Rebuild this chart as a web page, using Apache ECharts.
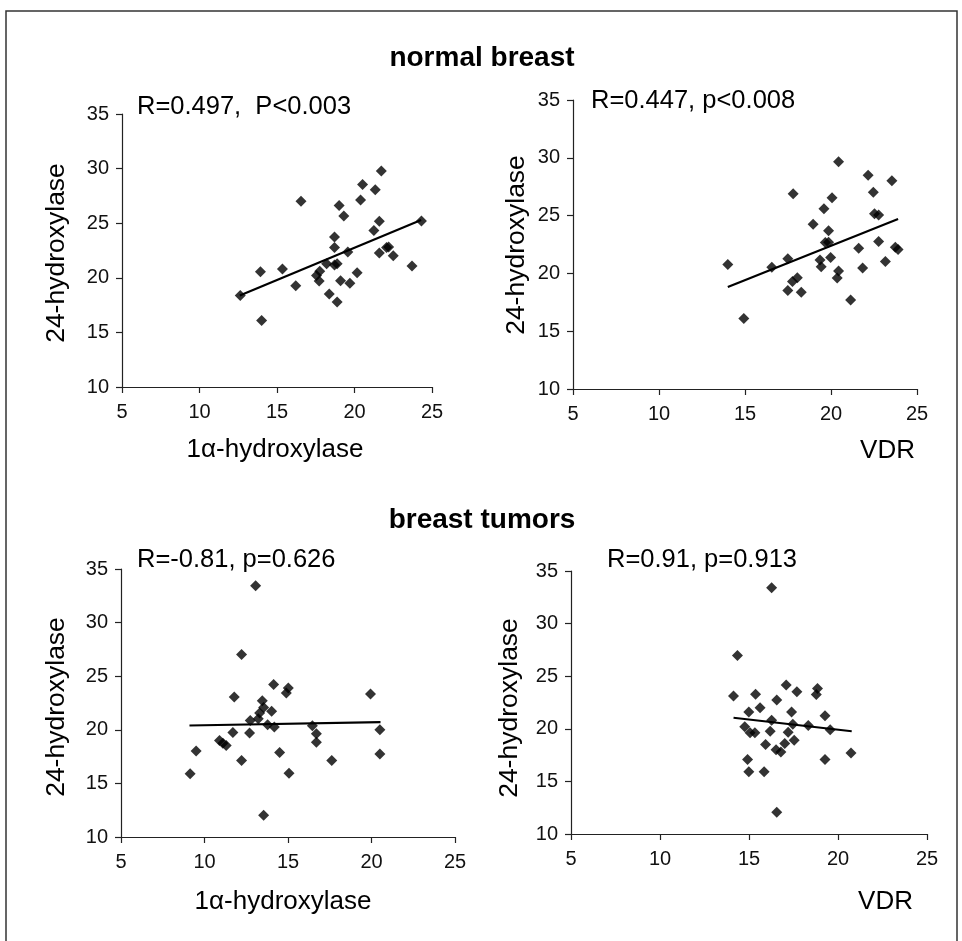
<!DOCTYPE html>
<html>
<head>
<meta charset="utf-8">
<script src="https://cdn.jsdelivr.net/npm/echarts@6/dist/echarts.min.js"></script>
<style>
html,body{margin:0;padding:0;background:#fff;}
#chart{width:962px;height:941px;}
</style>
</head>
<body>
<div id="chart"></div>
<script>
// ---- data ----
const sectionTitles = ['normal breast', 'breast tumors'];
const annotations = ['R=0.497,  P<0.003', 'R=0.447, p<0.008', 'R=-0.81, p=0.626', 'R=0.91, p=0.913'];
const xTitles = ['1\u03b1-hydroxylase', 'VDR', '1\u03b1-hydroxylase', 'VDR'];
const yTitle = '24-hydroxylase';

const normal1a = [
  [12.63,18.38],[13.93,20.56],[14.01,16.10],[15.35,20.80],[16.21,19.27],[16.55,27.00],
  [17.55,20.22],[17.76,20.59],[17.72,19.71],[18.20,21.29],[18.37,18.51],[18.71,23.74],
  [18.71,22.78],[18.71,21.17],[18.88,21.29],[18.88,17.78],[19.01,26.63],[19.31,25.66],
  [19.10,19.74],[19.57,22.36],[19.70,19.49],[20.17,20.47],[20.39,27.12],[20.52,28.55],
  [21.25,24.34],[21.34,28.07],[21.60,25.17],[21.60,22.27],[21.73,29.78],[22.07,22.78],
  [22.20,22.82],[22.50,22.02],[23.71,21.08],[24.32,25.20]
];
const normal1aFit = [[12.6,18.38],[24.3,25.3]];

const normalVDR = [
  [14.00,20.78],[14.93,16.09],[16.56,20.54],[17.49,21.27],[17.49,18.51],[17.80,26.90],
  [17.76,19.31],[18.04,19.63],[18.27,18.36],[18.96,24.25],[19.36,21.15],[19.43,20.57],
  [19.59,25.60],[19.67,22.67],[19.86,22.70],[19.86,23.68],[19.98,21.38],[20.06,26.55],
  [20.36,19.60],[20.44,20.20],[20.44,29.66],[21.14,17.70],[21.61,22.18],[21.84,20.46],
  [22.16,28.50],[22.46,27.01],[22.53,25.17],[22.77,25.06],[22.77,22.76],[23.16,21.03],
  [23.54,28.02],[23.74,22.27],[23.90,22.07]
];
const normalVDRFit = [[14.0,18.82],[23.9,24.71]];

const tumor1a = [
  [13.06,33.43],[12.22,27.03],[14.14,24.22],[15.02,23.91],[14.90,23.44],[11.78,23.06],
  [19.94,23.35],[13.46,22.72],[13.54,22.09],[13.30,21.56],[14.02,21.72],[13.22,21.03],
  [12.74,20.87],[13.78,20.47],[14.18,20.25],[16.46,20.38],[16.70,19.63],[16.70,18.85],
  [20.50,20.00],[11.70,19.75],[12.70,19.69],[10.90,19.00],[11.10,18.75],[11.30,18.53],
  [9.50,18.03],[14.50,17.88],[20.50,17.75],[12.22,17.13],[17.62,17.13],[9.14,15.90],
  [15.06,15.94],[13.54,12.03]
];
const tumor1aFit = [[9.1,20.4],[20.54,20.72]];

const tumorVDR = [
  [16.27,33.40],[14.35,26.97],[14.13,23.11],[15.37,23.28],[17.09,24.17],[17.69,23.53],
  [16.56,22.73],[18.85,23.82],[18.78,23.25],[15.62,22.00],[14.99,21.59],[17.39,21.59],
  [19.27,21.24],[16.27,20.82],[17.46,20.44],[18.33,20.32],[19.56,19.90],[14.76,20.19],
  [15.06,19.62],[15.33,19.62],[16.19,19.77],[17.20,19.68],[17.54,18.91],[17.01,18.60],
  [15.93,18.50],[16.52,18.02],[16.79,17.80],[20.73,17.71],[14.92,17.07],[19.27,17.07],
  [14.99,15.92],[15.85,15.92],[16.56,12.07]
];
const tumorVDRFit = [[14.13,21.05],[20.77,19.77]];

const xMin = 5, xMax = 25, xStep = 5;
const yMin = 10, yMax = 35, yStep = 5;

// ---- layout ----
const FONT = "'Liberation Sans', Arial, Helvetica, sans-serif";
const grids = [
  {left:122, top:114, width:310, height:273},
  {left:573, top:100, width:344, height:289},
  {left:121, top:569, width:334, height:268},
  {left:571, top:571, width:356, height:263}
];
const pointSets = [normal1a, normalVDR, tumor1a, tumorVDR];
const fitSets = [normal1aFit, normalVDRFit, tumor1aFit, tumorVDRFit];

const axisCommon = {
  axisLine:{show:true, onZero:false, lineStyle:{color:'#222', width:1.2}},
  axisTick:{show:true, inside:false, length:6, lineStyle:{color:'#222', width:1.2}},
  splitLine:{show:false},
  axisLabel:{color:'#111', fontFamily:FONT, fontSize:20}
};

const xAxes = grids.map((g,i)=>Object.assign({}, JSON.parse(JSON.stringify(axisCommon)), {
  type:'value', gridIndex:i, min:xMin, max:xMax, interval:xStep
}));
xAxes.forEach(a=>{a.axisLabel.margin = 15;});
const yAxes = grids.map((g,i)=>Object.assign({}, JSON.parse(JSON.stringify(axisCommon)), {
  type:'value', gridIndex:i, min:yMin, max:yMax, interval:yStep
}));
yAxes.forEach(a=>{a.axisLabel.margin = 13;});

const series = [];
pointSets.forEach((pts,i)=>{
  series.push({type:'scatter', xAxisIndex:i, yAxisIndex:i, data:pts, symbol:'diamond',
    symbolSize:11, itemStyle:{color:'#000'}, z:3});
  series.push({type:'line', xAxisIndex:i, yAxisIndex:i, data:fitSets[i], symbol:'none',
    lineStyle:{color:'#000', width:2.2}, z:2});
});

function txt(x, y, s, opts){
  return Object.assign({type:'text', x:x, y:y, style:Object.assign({
    text:s, fill:'#000', font:'25.5px ' + FONT, textAlign:'left', textVerticalAlign:'middle'
  }, opts && opts.style)}, opts && opts.el);
}

const graphic = [
  {type:'rect', shape:{x:6, y:11, width:951, height:940}, style:{fill:'none', stroke:'#333', lineWidth:1.5}},
  txt(482, 58, sectionTitles[0], {style:{font:'bold 28px ' + FONT, textAlign:'center'}}),
  txt(482, 520, sectionTitles[1], {style:{font:'bold 28px ' + FONT, textAlign:'center'}}),
  txt(137, 107, annotations[0]),
  txt(591, 101, annotations[1]),
  txt(137, 560, annotations[2]),
  txt(607, 560, annotations[3]),
  txt(57, 253, yTitle, {style:{textAlign:'center', font:'26.5px ' + FONT}, el:{rotation:Math.PI/2}}),
  txt(517, 245, yTitle, {style:{textAlign:'center', font:'26.5px ' + FONT}, el:{rotation:Math.PI/2}}),
  txt(57, 707, yTitle, {style:{textAlign:'center', font:'26.5px ' + FONT}, el:{rotation:Math.PI/2}}),
  txt(510, 708, yTitle, {style:{textAlign:'center', font:'26.5px ' + FONT}, el:{rotation:Math.PI/2}}),
  txt(275, 450, xTitles[0], {style:{textAlign:'center', font:'26px ' + FONT}}),
  txt(915, 451, xTitles[1], {style:{textAlign:'right', font:'26px ' + FONT}}),
  txt(283, 902, xTitles[2], {style:{textAlign:'center', font:'26px ' + FONT}}),
  txt(913, 902, xTitles[3], {style:{textAlign:'right', font:'26px ' + FONT}})
];

const chart = echarts.init(document.getElementById('chart'), null, {renderer:'canvas'});
chart.setOption({
  backgroundColor:'#fff',
  animation:false,
  grid:grids.map(g=>Object.assign({containLabel:false}, g)),
  xAxis:xAxes,
  yAxis:yAxes,
  series:series,
  graphic:graphic
});
</script>
</body>
</html>
